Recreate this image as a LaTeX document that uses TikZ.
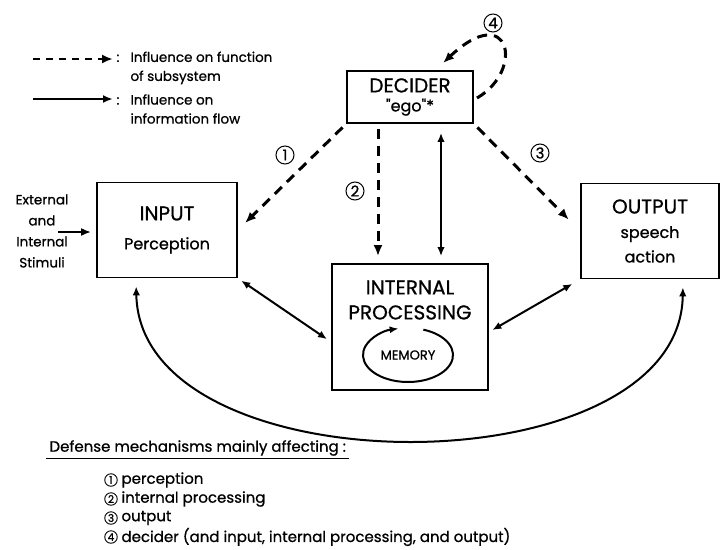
\documentclass[tikz,border=0pt]{standalone}
\usepackage{fontspec}
\setmainfont{Poppins}[Ligatures=TeXOff, FakeBold=0.8]
\usetikzlibrary{arrows.meta}
\newcommand\capsz{\fontsize{20}{20}\selectfont}
\tikzset{
    sysbox/.style={rectangle, draw, line width=1.8pt, align=center},
    num/.style={circle, draw, line width=1pt, inner sep=0pt, minimum size=18pt, font=\fontsize{15}{15}\selectfont},
    smallnum/.style={circle, draw, line width=0.9pt, inner sep=0pt, minimum size=12.5pt, font=\fontsize{10.5}{10}\selectfont},
    txt/.style={font=\fontsize{13.5}{19}\selectfont},
    listtxt/.style={font=\fontsize{15}{19}\selectfont},
    flow/.style={line width=2.2pt, -{Latex[length=10pt,width=8pt]}},
    dflow/.style={line width=2pt, {Latex[length=9pt,width=7.5pt]}-{Latex[length=9pt,width=7.5pt]}},
    infl/.style={line width=3pt, dash pattern=on 10pt off 7pt, -{Latex[length=11pt,width=9pt]}}
}

\begin{document}
\begin{tikzpicture}[x=1pt, y=-1pt]
  \useasboundingbox (0,0) rectangle (720,549);

  % key
  \coordinate (kd1) at (33,59);
  \coordinate (kd2) at (113,59);
  \coordinate (ks1) at (33,99);
  \coordinate (ks2) at (113,99);
  \draw (kd1) edge [infl, line width=2.2pt, dash pattern=on 7pt off 6pt] (kd2);
  \draw (ks1) edge [flow] (ks2);
  \node (key1) [txt, anchor=west, align=left] at (113,68) {\makebox[14pt][l]{:}Influence on function\\\hspace*{14pt}of subsystem};
  \node (key2) [txt, anchor=west, align=left] at (113,109) {\makebox[14pt][l]{:}Influence on\\\hspace*{14pt}information flow};

  % subsystems
  \node (dec) [sysbox, minimum width=126pt, minimum height=52pt, font=\fontsize{16}{19}\selectfont] at (410,97) {{\capsz DECIDER}\\"ego"*};
  \node (inp) [sysbox, minimum width=140pt, minimum height=95pt, font=\fontsize{16}{29}\selectfont] at (167,230) {{\capsz INPUT}\\Perception};
  \node (out) [sysbox, minimum width=138pt, minimum height=95pt, font=\fontsize{16}{24.5}\selectfont] at (650,231) {{\capsz OUTPUT}\\speech\\action};
  \node (proc) [sysbox, minimum width=156pt, minimum height=126pt] at (410,327) {};
  \node (proctxt) [font=\fontsize{20}{25}\selectfont, align=center] at (410,300) {INTERNAL\\PROCESSING};
  \node (mem) [font=\fontsize{13}{13}\selectfont] at (408,355) {MEMORY};
  \draw [line width=2pt, -{Latex[length=9pt,width=7pt]}] (mem.center) ++(-70:45 and 27) arc [start angle=-70, end angle=258, x radius=45, y radius=27];

  % stimuli
  \node (stim) [align=center, font=\fontsize{13.5}{21}\selectfont] at (42,231) {External\\and\\Internal\\Stimuli};
  \coordinate (stimA) at (58,232);
  \draw (stimA) edge [flow, shorten >=5pt] (inp.west |- stimA);

  % influence on function
  \draw (dec.south west) edge [infl, shorten <=5pt, shorten >=10pt] (inp.east);
  \draw ([xshift=-32pt]dec.south) edge [infl, shorten <=5pt, shorten >=7pt] ([xshift=-32pt]proc.north);
  \draw (dec.south east) edge [infl, shorten <=5pt, shorten >=16pt] (out.west);
  \coordinate (loopS) at (477,98);
  \coordinate (loopE) at (443,63);
  \draw [infl] (loopS) .. controls (525,70) and (510,0) .. (loopE);

  \node (n1) [num] at (285,155) {1};
  \node (n2) [num] at (355,191) {2};
  \node (n3) [num] at (540,153) {3};
  \node (n4) [num] at (493,23) {4};

  % information flow
  \draw ([xshift=31pt]dec.south) edge [dflow, shorten <=9pt, shorten >=7pt] ([xshift=31pt]proc.north);
  \draw (inp.south east) edge [dflow, shorten <=4pt, shorten >=5pt] ([yshift=-15pt]proc.west);
  \draw ([yshift=-5pt]proc.east) edge [dflow, shorten <=4pt, shorten >=9pt] (out.south west);
  \draw [dflow, shorten <=8pt, shorten >=8pt] ([xshift=-31pt]inp.south) .. controls (140,491) and (680,491) .. ([xshift=33pt]out.south);

  % list of defense mechanisms
  \node (defh) [listtxt, anchor=west] at (46,448) {Defense mechanisms mainly affecting :};
  \draw [line width=1.3pt] ([yshift=1pt]defh.south west) -- ([yshift=1pt]defh.south east);

  \node (m1) [smallnum] at (111,480) {1};
  \node (m2) [smallnum] at (111,499) {2};
  \node (m3) [smallnum] at (111,518) {3};
  \node (m4) [smallnum] at (111,537) {4};
  \node (t1) [listtxt, anchor=west] at (118,480) {perception};
  \node (t2) [listtxt, anchor=west] at (118,499) {internal processing};
  \node (t3) [listtxt, anchor=west] at (118,518) {output};
  \node (t4) [listtxt, anchor=west] at (118,537) {decider (and input, internal processing, and output)};
\end{tikzpicture}
\end{document}
